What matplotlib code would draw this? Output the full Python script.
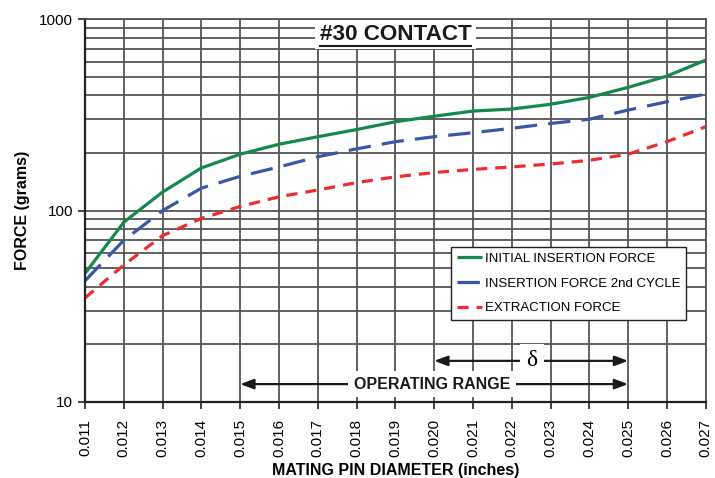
import matplotlib
matplotlib.use('Agg')
import matplotlib.pyplot as plt
from matplotlib.lines import Line2D

plt.rcParams['font.family'] = ['Liberation Sans', 'DejaVu Sans']

# ---- data ----
diameter = [0.011, 0.012, 0.013, 0.014, 0.015, 0.016, 0.017, 0.018, 0.019,
            0.020, 0.021, 0.022, 0.023, 0.024, 0.025, 0.026, 0.027]
initial_insertion = [47, 87, 125, 167, 197, 222, 243, 265, 291,
                     311, 331, 339, 359, 390, 440, 504, 611]
second_cycle = [43, 70, 100, 131, 151, 169, 191, 210, 229,
                243, 255, 269, 285, 300, 335, 370, 406]
extraction = [35, 52, 74, 91, 105, 118, 128, 140, 150,
              158, 164, 169, 175, 183, 197, 229, 274]
tick_labels = ['0.011', '0.012', '0.013', '0.014', '0.015', '0.016', '0.017',
               '0.018', '0.019', '0.020', '0.021', '0.022', '0.023', '0.024',
               '0.025', '0.026', '0.027']
operating_range = (0.015, 0.025)
delta_range = (0.020, 0.025)

GREEN = '#13894a'
BLUE = '#3b56a6'
RED = '#ee2b2f'
GRID = '#555555'

fig = plt.figure(figsize=(7.15, 4.78), dpi=100)
ax = fig.add_axes([0.119, 0.159, 0.868, 0.801])

ax.set_yscale('log')
ax.set_xlim(0.011, 0.027)
ax.set_ylim(10, 1000)

# grid
ax.set_xticks(diameter)
ax.set_xticklabels(tick_labels, rotation=90, fontsize=11)
ax.set_yticks([10, 100, 1000])
ax.set_yticklabels(['10', '100', '1000'], fontsize=11)
ax.yaxis.set_minor_formatter(plt.NullFormatter())
ax.tick_params(axis='y', which='minor', length=0)
ax.tick_params(axis='both', which='major', length=5, width=1.2, color='#222222')
ax.tick_params(axis='x', which='major', pad=7)
ax.grid(True, which='both', axis='y', color=GRID, lw=1.3)
ax.grid(True, which='major', axis='x', color=GRID, lw=1.3)
ax.set_axisbelow(True)
for side in ['left', 'bottom']:
    ax.spines[side].set_linewidth(1.6)
    ax.spines[side].set_color('#222222')
for side in ['right', 'top']:
    ax.spines[side].set_linewidth(1.3)
    ax.spines[side].set_color(GRID)

# curves
ax.plot(diameter, initial_insertion, color=GREEN, lw=2.3,
        label='INITIAL INSERTION FORCE', solid_capstyle='butt')
ax.plot(diameter, second_cycle, color=BLUE, lw=2.3, dashes=(7, 3.5),
        label='INSERTION FORCE 2nd CYCLE')
ax.plot(diameter, extraction, color=RED, lw=2.3, dashes=(3.5, 2.5),
        label='EXTRACTION FORCE')

leg = ax.legend(loc='upper right', bbox_to_anchor=(0.969, 0.405), fontsize=9.5,
                frameon=True, fancybox=False, framealpha=1, edgecolor='#222222',
                handlelength=1.9, handletextpad=0.23, borderpad=0.45,
                labelspacing=0.93, borderaxespad=0)
leg.get_frame().set_linewidth(1.0)

ax.set_xlabel('MATING PIN DIAMETER (inches)', fontsize=11.5, fontweight='bold')
ax.xaxis.set_label_coords(0.5, -0.16)
ax.set_ylabel('FORCE (grams)', fontsize=11.5, fontweight='bold')
ax.yaxis.set_label_coords(-0.0886, 0.5)

# title with white box and underline
title = ax.text(0.5, 0.96, '#30 CONTACT', transform=ax.transAxes, ha='center', va='center',
                fontsize=16.2, fontweight='bold', color='#1a1a1a', zorder=5,
                bbox=dict(facecolor='white', edgecolor='none', pad=3))

# arrows
arrow_kw = dict(arrowstyle='-|>,head_length=0.8,head_width=0.3', color='#1a1a1a',
                lw=1.6, shrinkA=0, shrinkB=0)
y_delta = 16.4
y_oper = 12.4
d_mid = 0.02252
ax.annotate('', xy=(delta_range[0], y_delta), xytext=(d_mid, y_delta), arrowprops=arrow_kw)
ax.annotate('', xy=(delta_range[1], y_delta), xytext=(d_mid, y_delta), arrowprops=arrow_kw)
ax.text(d_mid, y_delta, '\u03b4', ha='center', va='center', fontsize=17,
        family=['Liberation Serif', 'DejaVu Serif'], zorder=5,
        bbox=dict(facecolor='white', edgecolor='none', pad=5))

o_mid = 0.01994
ax.annotate('', xy=(operating_range[0], y_oper), xytext=(o_mid, y_oper), arrowprops=arrow_kw)
ax.annotate('', xy=(operating_range[1], y_oper), xytext=(o_mid, y_oper), arrowprops=arrow_kw)
ax.text(o_mid, y_oper, 'OPERATING RANGE', ha='center', va='center', fontsize=11.5,
        fontweight='bold', color='#1a1a1a', zorder=5,
        bbox=dict(facecolor='white', edgecolor='none', pad=4))

# underline under the title text
fig.canvas.draw()
bb = title.get_window_extent(fig.canvas.get_renderer())
inv = fig.transFigure.inverted()
(x0, y0), (x1, _) = inv.transform([(bb.x0, bb.y0 - 1), (bb.x1, bb.y0 - 1)])
fig.add_artist(Line2D([x0, x1], [y0, y0], transform=fig.transFigure,
                      color='#1a1a1a', lw=1.5, zorder=6))

fig.savefig('out.png', dpi=100)
